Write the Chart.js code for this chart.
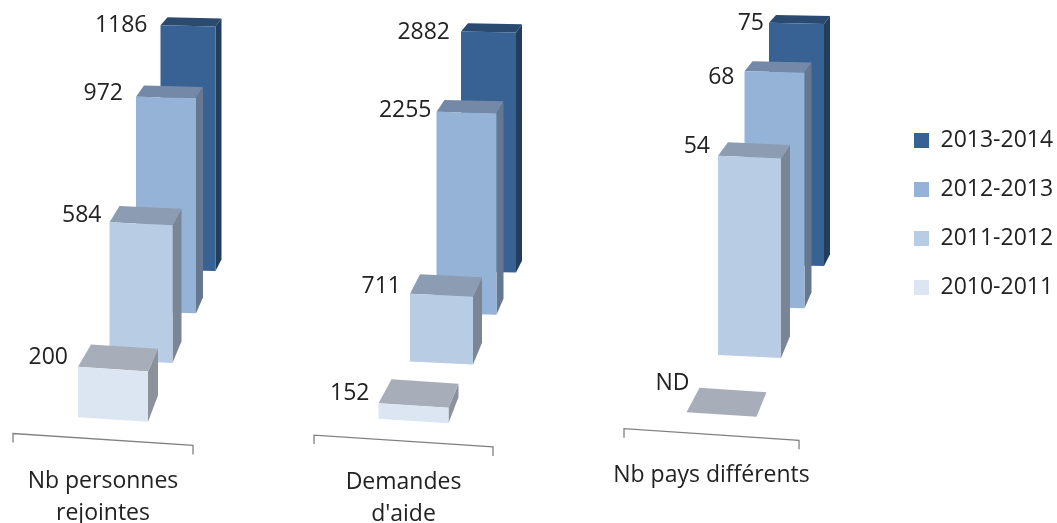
<!DOCTYPE html>
<html>
<head>
    <meta charset="utf-8">
    <title>Indicateurs 2010-2014</title>
    <script src="https://cdn.jsdelivr.net/npm/chart.js"></script>
    <style>
        body { margin: 0; background: #fff; }
        canvas { position: absolute; top: 0; filter: blur(0.4px); }
    </style>
</head>
<body>
    <canvas id="g0" width="300" height="523" style="left:0"></canvas>
    <canvas id="g1" width="300" height="523" style="left:300px"></canvas>
    <canvas id="g2" width="457" height="523" style="left:600px"></canvas>
    <script>
        // donnees
        var categories = [['Nb personnes', 'rejointes'], ['Demandes', "d'aide"], ['Nb pays différents']];
        var seriesNames = ['2010-2011', '2011-2012', '2012-2013', '2013-2014'];
        var values2010 = [200, 152, null];
        var values2011 = [584, 711, 54];
        var values2012 = [972, 2255, 68];
        var values2013 = [1186, 2882, 75];
        var seriesValues = [values2010, values2011, values2012, values2013];
        var axisMax = [1509, 3738, 96.4];

        // couleurs des faces
        var frontColors = ['#dce6f2', '#b8cce4', '#95b3d7', '#376293'];
        var topColors = ['#a7aeb9', '#8c9cb2', '#7489a7', '#2a4a70'];
        var sideColors = ['#8b929b', '#7a8696', '#65788f', '#233e5d'];

        // perspective: de la serie avant vers la serie arriere
        var depthFactor = [0.95, 0.89, 0.835, 0.778];
        var depthX = [10, 38, 63, 85];
        var depthRise = [0, 58, 107, 149];
        var barWidth = [70, 63, 60, 55];
        var sideDx = [10, 9, 7, 6];
        var sideBottomDy = [27, 22, 16, 12];
        var leftExtra = [3, 1, 1, 1];
        var shear = [0.065, 0.046, 0.022, 0.02];

        // emplacement de chaque groupe
        var groups = [
            { id: 'g0', left: 13, right: 107, bottom: 419.5, tickPad: 38,
              labelDx: [-10, -8, -13, -13], labelDy: [-10, -8, -4, -1] },
            { id: 'g1', left: 14, right: 107, bottom: 421, tickPad: 37,
              labelDx: [-9, -9, -5, -11], labelDy: [-11, -8, -2, 0] },
            { id: 'g2', left: 24, right: 258, bottom: 414.5, tickPad: 37,
              labelDx: [3, -8, -10, -5], labelDy: [-30, -10, 5, 0] }
        ];

        Chart.defaults.font.family = '"Open Sans", sans-serif';
        Chart.defaults.font.size = 23;
        Chart.defaults.color = '#222';

        function topDy(y) {
            return 7 + 0.044 * y;
        }

        var bars3d = {
            id: 'bars3d',
            afterDatasetsUpdate: function (chart) {
                var yScale = chart.scales.y;
                var xScale = chart.scales.x;
                var bottom = chart.chartArea.bottom;
                chart.data.datasets.forEach(function (ds, i) {
                    var el = chart.getDatasetMeta(i).data[0];
                    var v = ds.data[0] === null ? 0 : ds.data[0];
                    var h = (bottom - yScale.getPixelForValue(v)) * depthFactor[i];
                    el.x = xScale.getPixelForTick(0) + depthX[i];
                    el.base = bottom - depthRise[i];
                    el.y = el.base - h;
                    el.width = barWidth[i];
                    el.height = h;
                });
            },
            beforeDatasetDraw: function (chart, args) {
                var i = args.index;
                var el = args.meta.data[0];
                var ctx = chart.ctx;
                var l = el.x - el.width / 2;
                var r = el.x + el.width / 2;
                var dy = topDy(el.y);
                ctx.save();
                ctx.transform(1, shear[i], 0, 1, 0, -shear[i] * el.x);
                if (chart.data.datasets[i].data[0] !== null) {
                    ctx.fillStyle = sideColors[i];
                    ctx.beginPath();
                    ctx.moveTo(r, el.y);
                    ctx.lineTo(r + sideDx[i], el.y - dy);
                    ctx.lineTo(r + sideDx[i], el.base - sideBottomDy[i]);
                    ctx.lineTo(r, el.base);
                    ctx.closePath();
                    ctx.fill();
                }
                ctx.fillStyle = topColors[i];
                ctx.beginPath();
                ctx.moveTo(l, el.y);
                ctx.lineTo(l + sideDx[i] + leftExtra[i], el.y - dy);
                ctx.lineTo(r + sideDx[i], el.y - dy);
                ctx.lineTo(r, el.y);
                ctx.closePath();
                ctx.fill();
            },
            afterDatasetDraw: function (chart) {
                chart.ctx.restore();
            },
            afterDraw: function (chart, args, opts) {
                var ctx = chart.ctx;
                var x = chart.scales.x;
                var yc = chart.chartArea.bottom + 20;
                var k = 0.066;
                var cx = (x.left + x.right) / 2;
                var yl = yc + k * (x.left - cx);
                var yr = yc + k * (x.right - cx);
                ctx.save();
                // crochet de l'axe
                ctx.strokeStyle = '#808080';
                ctx.lineWidth = 1.3;
                ctx.beginPath();
                ctx.moveTo(x.left, yl + 9);
                ctx.lineTo(x.left, yl);
                ctx.lineTo(x.right, yr);
                ctx.lineTo(x.right, yr + 9);
                ctx.stroke();
                // etiquettes de valeurs
                ctx.fillStyle = '#222';
                ctx.font = '23px "Open Sans", sans-serif';
                ctx.textAlign = 'right';
                ctx.textBaseline = 'middle';
                chart.data.datasets.forEach(function (ds, i) {
                    var el = chart.getDatasetMeta(i).data[0];
                    var l = el.x - el.width / 2;
                    var y = el.y - shear[i] * el.width / 2;
                    var txt = ds.data[0] === null ? 'ND' : String(ds.data[0]);
                    ctx.fillText(txt, l + opts.labelDx[i], y + opts.labelDy[i] + 1);
                });
                ctx.restore();
            },
            afterLayout: function (chart) {
                // legende placee a droite, hors de la zone du graphique
                if (chart.options.plugins.legend.display) {
                    chart.legend.left = 288;
                    chart.legend.right = 457;
                    chart.legend.top = 103;
                    chart.legend.bottom = 400;
                }
            }
        };

        groups.forEach(function (g, n) {
            var datasets = seriesNames.map(function (name, i) {
                return {
                    label: name,
                    data: [seriesValues[i][n]],
                    backgroundColor: frontColors[i],
                    borderWidth: 0,
                    grouped: false,
                    clip: false
                };
            });
            new Chart(document.getElementById(g.id), {
                type: 'bar',
                data: { labels: [categories[n]], datasets: datasets },
                plugins: [bars3d],
                options: {
                    responsive: false,
                    animation: false,
                    events: [],
                    layout: { padding: { left: g.left, right: g.right, top: g.bottom - 400, bottom: 0 } },
                    scales: {
                        x: {
                            grid: { display: false },
                            border: { display: false },
                            ticks: {
                                padding: g.tickPad,
                                autoSkip: false,
                                maxRotation: 0,
                                minRotation: 0,
                                color: '#222',
                                font: { size: 23, lineHeight: 1.39 }
                            },
                            afterFit: function (scale) {
                                scale.height = 523 - g.bottom;
                                scale.paddingLeft = 0;
                                scale.paddingRight = 0;
                            }
                        },
                        y: { display: false, min: 0, max: axisMax[n] }
                    },
                    plugins: {
                        tooltip: { enabled: false },
                        bars3d: { labelDx: g.labelDx, labelDy: g.labelDy },
                        legend: {
                            display: n === 2,
                            position: 'chartArea',
                            align: 'start',
                            reverse: true,
                            labels: { boxWidth: 15, boxHeight: 15, padding: 26, color: '#222', font: { size: 23 } }
                        }
                    }
                }
            });
        });
    </script>
</body>
</html>
